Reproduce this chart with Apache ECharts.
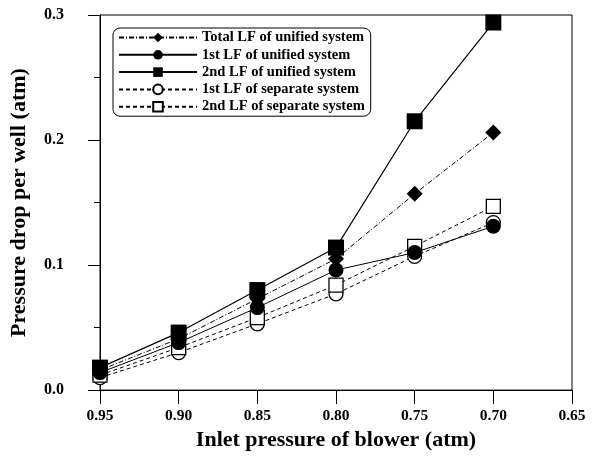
<!DOCTYPE html>
<html>
<head>
<meta charset="utf-8">
<script src="https://cdn.jsdelivr.net/npm/echarts@6/dist/echarts.min.js"></script>
<style>html,body{margin:0;padding:0;background:#fff}#c{width:598px;height:456px}</style>
</head>
<body>
<div id="c"></div>
<script>
const xValues = [0.95, 0.90, 0.85, 0.80, 0.75, 0.70];
const totalUnified = [0.016, 0.041, 0.073, 0.105, 0.157, 0.206];
const firstUnified = [0.014, 0.038, 0.066, 0.096, 0.110, 0.131];
const secondUnified = [0.018, 0.046, 0.080, 0.114, 0.215, 0.294];
const firstSeparate = [0.010, 0.030, 0.053, 0.077, 0.107, 0.134];
const secondSeparate = [0.012, 0.034, 0.058, 0.084, 0.115, 0.147];
const seriesNames = ['Total LF of unified system','1st LF of unified system','2nd LF of unified system','1st LF of separate system','2nd LF of separate system'];

const pairs = arr => xValues.map((x, i) => [x, arr[i]]);
const font = 'Liberation Serif, Times New Roman, serif';

const chart = echarts.init(document.getElementById('c'));
chart.setOption({
  animation: false,
  backgroundColor: '#fff',
  grid: {left: 98, right: 26, top: 15, bottom: 65, show: true, borderColor: '#000', borderWidth: 1},
  legend: {
    orient: 'vertical', left: 113, top: 28, data: seriesNames,
    itemWidth: 78, itemHeight: 12, itemGap: 2.3,
    padding: [2, 6, 2, 5],
    borderColor: '#000', borderWidth: 1, borderRadius: 7,
    textStyle: {fontFamily: font, fontWeight: 'bold', fontSize: 14.5, color: '#000'}
  },
  xAxis: {
    type: 'value', inverse: true, min: 0.65, max: 0.95, interval: 0.05,
    name: 'Inlet pressure of blower (atm)', nameLocation: 'middle', nameGap: 38,
    nameTextStyle: {fontFamily: font, fontWeight: 'bold', fontSize: 22, color: '#000'},
    axisLine: {lineStyle: {color: '#000', width: 1}},
    axisTick: {inside: false, length: 14, lineStyle: {color: '#000'}},
    axisLabel: {fontFamily: font, fontWeight: 'bold', fontSize: 15.5, color: '#000', margin: 18,
      formatter: v => v.toFixed(2)},
    splitLine: {show: false}
  },
  yAxis: {
    type: 'value', min: 0, max: 0.3, interval: 0.1,
    name: 'Pressure drop per well (atm)', nameLocation: 'middle', nameGap: 70,
    nameTextStyle: {fontFamily: font, fontWeight: 'bold', fontSize: 22, color: '#000'},
    axisLine: {show: true, lineStyle: {color: '#000', width: 1}},
    axisTick: {inside: false, length: 12, lineStyle: {color: '#000'}},
    minorTick: {show: true, splitNumber: 2, length: 6, lineStyle: {color: '#000'}},
    axisLabel: {fontFamily: font, fontWeight: 'bold', fontSize: 16, color: '#000', margin: 36,
      formatter: v => v.toFixed(1)},
    splitLine: {show: false}
  },
  series: [
    {name: seriesNames[3], type: 'line', data: pairs(firstSeparate), symbol: 'circle', symbolSize: 14,
      lineStyle: {color: '#000', width: 1, type: [4, 3]},
      itemStyle: {color: '#fff', borderColor: '#000', borderWidth: 1.3}},
    {name: seriesNames[4], type: 'line', data: pairs(secondSeparate), symbol: 'rect', symbolSize: 14,
      lineStyle: {color: '#000', width: 1, type: [4, 3]},
      itemStyle: {color: '#fff', borderColor: '#000', borderWidth: 1.3}},
    {name: seriesNames[0], type: 'line', data: pairs(totalUnified), symbol: 'diamond', symbolSize: 16,
      lineStyle: {color: '#000', width: 1, type: [5, 2, 1, 2]},
      itemStyle: {color: '#000'}},
    {name: seriesNames[1], type: 'line', data: pairs(firstUnified), symbol: 'circle', symbolSize: 15,
      lineStyle: {color: '#000', width: 1},
      itemStyle: {color: '#000'}},
    {name: seriesNames[2], type: 'line', data: pairs(secondUnified), symbol: 'rect', symbolSize: 16,
      lineStyle: {color: '#000', width: 1.2},
      itemStyle: {color: '#000'}}
  ]
});
</script>
</body>
</html>
